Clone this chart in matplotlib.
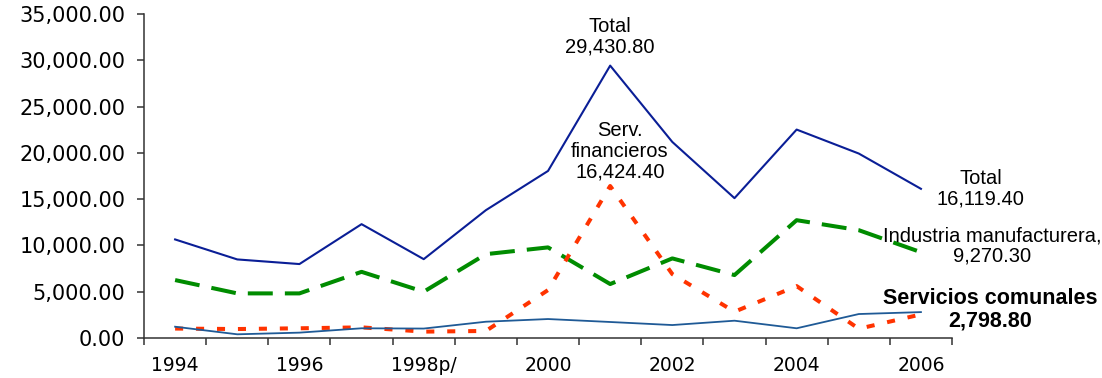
import matplotlib.pyplot as plt
from matplotlib.ticker import FixedLocator, FuncFormatter

# Millones de pesos por año
years = ["1994", "1995", "1996", "1997", "1998p/", "1999", "2000",
         "2001", "2002", "2003", "2004", "2005", "2006"]
total = [10650, 8490, 7990, 12300, 8520, 13810, 18050,
         29430.80, 21180, 15110, 22520, 19930, 16119.40]
industria = [6260, 4820, 4820, 7150, 5000, 9060, 9790,
             5830, 8600, 6800, 12730, 11650, 9270.30]
serv_financieros = [1020, 970, 1050, 1150, 690, 760, 5180,
                    16424.40, 6900, 2840, 5610, 1000, 2550]
serv_comunales = [1220, 400, 580, 1050, 1020, 1760, 2050,
                  1730, 1400, 1870, 1050, 2590, 2798.80]

x = list(range(len(years)))

fig = plt.figure(figsize=(11.02, 3.78), dpi=100)
ax = fig.add_axes([0.1307, 0.1058, 0.7332, 0.857])

ax.plot(x, total, color="#0A1E96", lw=1.5, zorder=3)
ax.plot(x, industria, color="#008C00", lw=2.9, linestyle=(0, (6.2, 3.0)),
        zorder=2)
ax.plot(x, serv_financieros, color="#FF3300", lw=2.9,
        linestyle=(0, (2.0, 3.2)), zorder=2)
ax.plot(x, serv_comunales, color="#1F5A96", lw=1.3, zorder=4)

ax.set_xlim(-0.5, len(years) - 0.5)
ax.set_ylim(0, 35000)

for side in ("top", "right"):
    ax.spines[side].set_visible(False)
for side in ("left", "bottom"):
    ax.spines[side].set_color("#333333")
    ax.spines[side].set_linewidth(1.1)

# tick marks between categories, labels on every other year
ax.xaxis.set_major_locator(FixedLocator([i - 0.5 for i in range(len(years) + 1)]))
ax.xaxis.set_major_formatter(FuncFormatter(lambda v, p: ""))
ax.xaxis.set_minor_locator(FixedLocator(x[::2]))
ax.xaxis.set_minor_formatter(FuncFormatter(lambda v, p: years[int(round(v))]))
ax.tick_params(axis="x", which="major", length=5, width=1.1, color="#333333")
ax.tick_params(axis="x", which="minor", length=0, pad=13, labelsize=13.5)

ax.yaxis.set_major_locator(FixedLocator(range(0, 35001, 5000)))
ax.yaxis.set_major_formatter(FuncFormatter(lambda v, p: f"{v:,.2f}"))
ax.tick_params(axis="y", length=5, width=1.1, color="#333333", pad=8.5,
               labelsize=15)

label_font = dict(family="Liberation Sans", ha="center", va="center",
                  linespacing=1.1, annotation_clip=False,
                  textcoords="offset points")

ax.annotate(f"Total\n{total[7]:,.2f}", xy=(7, total[7]),
            xytext=(0, 21), fontsize=14.5, **label_font)
ax.annotate(f"Serv.\nfinancieros\n{serv_financieros[7]:,.2f}",
            xy=(7, serv_financieros[7]), xytext=(7, 25), fontsize=14.5,
            **label_font)
ax.annotate(f"Total\n{total[-1]:,.2f}", xy=(12, total[-1]),
            xytext=(43, 0), fontsize=14.5, **label_font)
ax.annotate(f"Industria manufacturera,\n{industria[-1]:,.2f}",
            xy=(12, industria[-1]), xytext=(51, 4.5), fontsize=14.5,
            **label_font)
ax.annotate(f"Servicios comunales\n{serv_comunales[-1]:,.2f}",
            xy=(12, serv_comunales[-1]), xytext=(50, 1.5), fontsize=15.5,
            fontweight="bold", **label_font)

fig.savefig("out.png", dpi=100)
